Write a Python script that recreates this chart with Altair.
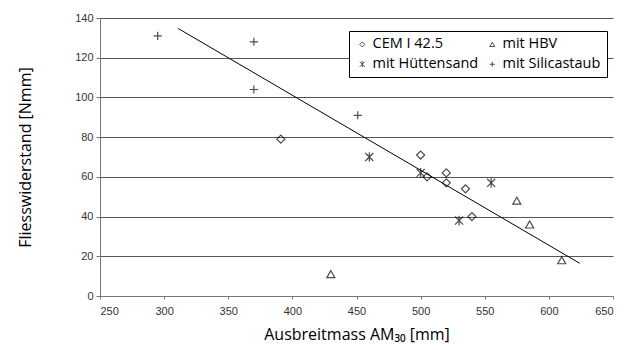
import altair as alt
import pandas as pd

# data
cem_x = [391, 500, 505, 520, 520, 535, 540]
cem_y = [79, 71, 60, 62, 57, 54, 40]
hbv_x = [430, 575, 585, 610]
hbv_y = [11, 48, 36, 18]
hs_x = [460, 500, 530, 555]
hs_y = [70, 62, 38, 57]
si_x = [295, 370, 370, 451]
si_y = [131, 128, 104, 91]
series = ["CEM I 42.5", "mit Hüttensand", "mit HBV", "mit Silicastaub"]
line_x = [311, 624]
line_y = [134.7, 16.5]

rows = []
for name, xs_, ys_ in zip(series, [cem_x, hs_x, hbv_x, si_x], [cem_y, hs_y, hbv_y, si_y]):
    for a, b in zip(xs_, ys_):
        rows.append({"x": a, "y": b, "s": name})
df = pd.DataFrame(rows)
ldf = pd.DataFrame({"x": line_x, "y": line_y})

shapes = [
    "diamond",
    "M-1,-1L1,1M-1,1L1,-1M0,-1.2V1.2",
    "triangle-up",
    "M-1,0H1M0,-1V1",
]

xs = alt.X("x:Q", scale=alt.Scale(domain=[250, 650], nice=False),
           axis=alt.Axis(values=list(range(250, 651, 50)), grid=False,
                         title="Ausbreitmass AM₃₀ [mm]", tickSize=3,
                         labelPadding=6, titlePadding=10, labelOverlap=False))
ys = alt.Y("y:Q", scale=alt.Scale(domain=[0, 140], nice=False),
           axis=alt.Axis(values=list(range(0, 141, 20)), grid=True,
                         title="Fliesswiderstand [Nmm]", tickSize=4,
                         labelPadding=3, titlePadding=41, labelOverlap=False))

pts = alt.Chart(df).mark_point(filled=False, color="black", strokeWidth=1.2, size=65).encode(
    x=xs, y=ys,
    shape=alt.Shape("s:N", scale=alt.Scale(domain=series, range=shapes),
                    sort=series,
                    legend=alt.Legend(title=None, orient="none", legendX=249, legendY=13,
                                      columns=2, strokeColor="black", padding=6,
                                      fillColor="white",
                                      labelFont="Open Sans", labelFontSize=14.5,
                                      labelColor="black", columnPadding=6,
                                      rowPadding=5, symbolSize=25,
                                      symbolStrokeColor="black", symbolStrokeWidth=1,
                                      symbolFillColor="transparent", labelOffset=3)),
)

line = alt.Chart(ldf).mark_line(color="black", strokeWidth=1).encode(x=xs, y=ys)

chart = (line + pts).properties(
    width=513, height=278,
    autosize=alt.AutoSizeParams(type="none"),
    padding={"left": 92, "top": 10, "right": 7, "bottom": 50},
).configure_view(stroke=None).configure_axis(
    labelFont="Liberation Sans", labelFontSize=11, labelColor="#333",
    titleFont="Open Sans", titleFontSize=16, titleFontWeight="normal", titleColor="black",
    domainColor="#777", tickColor="#777", gridColor="#555", gridWidth=1,
)

chart.save("out.html", embed_options={"renderer": "svg", "actions": False})
